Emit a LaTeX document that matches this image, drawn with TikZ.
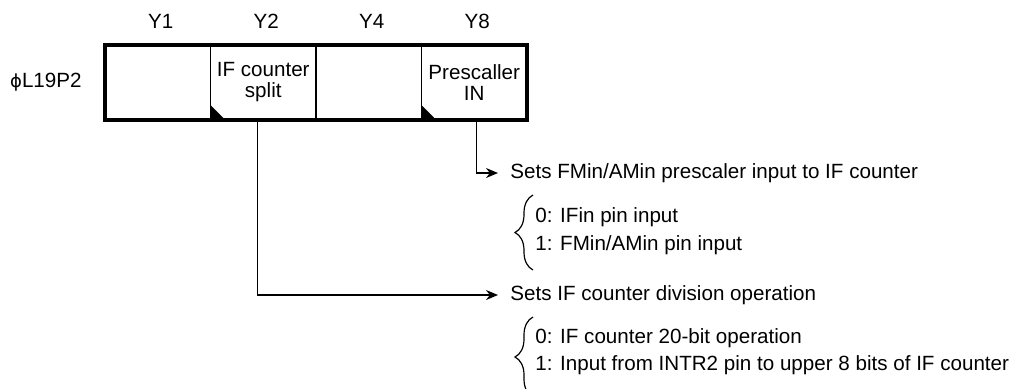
\documentclass[tikz,border=0pt]{standalone}
\usepackage{fontspec}
\setmainfont{Liberation Sans}
\newfontfamily\phifont{DejaVu Sans}
\usetikzlibrary{arrows.meta,positioning,decorations.pathreplacing}

\begin{document}
\begin{tikzpicture}[x=0.5pt, y=-0.5pt, node distance=0pt,
  cell/.style={minimum width=52.75pt, minimum height=37.5pt, inner sep=0pt, outer sep=0pt, align=center, font=\fontsize{10.3}{10.5}\selectfont},
  lbl/.style={inner sep=0pt, font=\fontsize{10.3}{12}\selectfont},
  desc/.style={anchor=west, inner sep=0pt, font=\fontsize{10.3}{12}\selectfont},
  frame/.style={line width=2pt},
  wire/.style={line width=0.6pt},
  curly/.style={line width=0.6pt, decorate, decoration={brace, amplitude=9pt}},
  >={Stealth[length=6pt,width=5pt]}]
\clip (0,0) rectangle (1029,388);
\node[cell] (y1) at (157.75,82.5) {};
\node[cell,right=of y1] (y2) {IF counter\\split};
\node[cell,right=of y2] (y4) {};
\node[cell,right=of y4] (y8) {Prescaller\\IN};
\draw[frame] (y1.north west) rectangle (y8.south east);
\foreach \c in {y1,y2,y4} \draw[line width=0.7pt] (\c.north east) -- (\c.south east);
\foreach \c in {y2,y8} \fill (\c.south west) -- ++(0,-15) -- ++(15,15) -- cycle;
\foreach \c/\t in {y1/Y1,y2/Y2,y4/Y4,y8/Y8} \node[lbl,above=8pt of \c,xshift=1.5pt] (\c-lbl) {\t};
\node[lbl,left=11.5pt of y1] (reg) {{\phifont\fontsize{9}{12}\selectfont ϕ}L19P2};
\node[desc] (fn8) at (510,173) {Sets FMin/AMin prescaler input to IF counter};
\node[desc] (fn2) at (510,295) {Sets IF counter division operation};
\node[desc] (o80) at (535,217) {0: IFin pin input};
\node[desc] (o81) at (535,245) {1: FMin/AMin pin input};
\node[desc] (o20) at (535,338) {0: IF counter 20-bit operation};
\node[desc] (o21) at (535,365) {1: Input from INTR2 pin to upper 8 bits of IF counter};
\coordinate (b8t) at (533,195); \coordinate (b8b) at (533,270);
\coordinate (b2t) at (533,317); \coordinate (b2b) at (533,397);
\draw[wire,->] ([xshift=1pt]y8.south) |- ([xshift=-6pt]fn8.west);
\draw[wire,->] ([xshift=-3pt]y2.south) |- ([xshift=-6pt]fn2.west);
\draw[curly] (b8b) -- (b8t);
\draw[curly] (b2b) -- (b2t);
\end{tikzpicture}
\end{document}
